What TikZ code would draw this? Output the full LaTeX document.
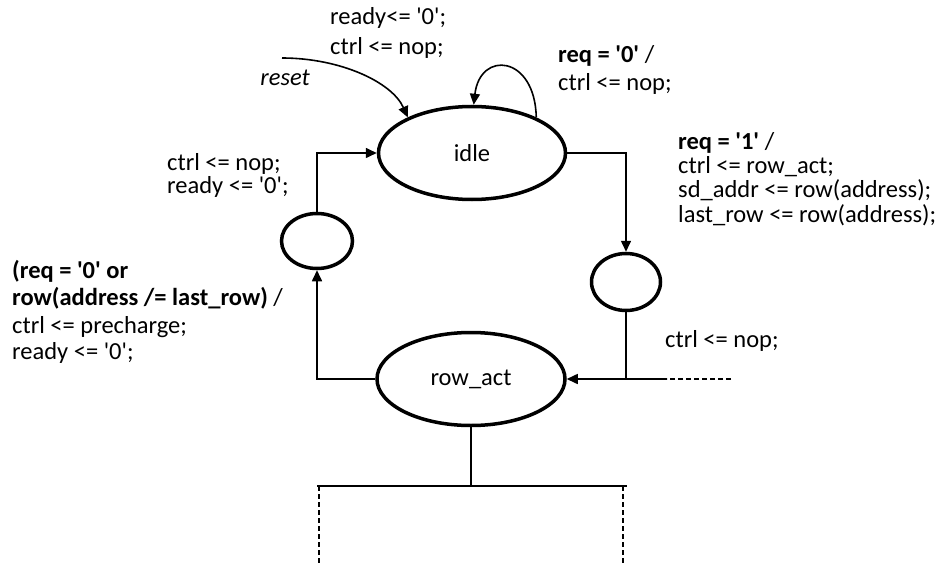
\documentclass[tikz,border=0pt]{standalone}
\usepackage{fontspec}
\setmainfont{Carlito}[Ligatures=TeXOff]
\usetikzlibrary{arrows.meta,shapes.geometric}
\begin{document}
\begin{tikzpicture}[x=1pt,y=-1pt,
  state/.style={ellipse,draw,line width=3.5pt,inner sep=0pt,font=\fontsize{24.5}{25}\selectfont},
  conn/.style={line width=1.6pt},
  arr/.style={conn,-{Triangle[length=11pt,width=10pt]}},
  dconn/.style={line width=1.4pt,dashed,dash pattern=on 5pt off 3pt},
  lbl/.style={anchor=mid west,inner sep=0pt,font=\fontsize{24.5}{25}\selectfont},
  ]
\useasboundingbox (0,0) rectangle (944,564);
% states
\node[state,minimum width=187pt,minimum height=93pt] (idle) at (472,153) {idle};
\node[state,minimum width=188pt,minimum height=93pt] (ract) at (471,379) {row\_act};
\node[state,minimum width=71pt,minimum height=55pt] (L) at (317,241) {};
\node[state,minimum width=69pt,minimum height=57pt] (R) at (626,282) {};
% coordinates
\coordinate (rst) at (282,58);
\coordinate (J) at (626,379);
\coordinate (D) at (667,379);
\coordinate (E) at (731,379);
\coordinate (B) at (471,486);
\coordinate (BL) at (317,486);
\coordinate (BR) at (627,486);
\coordinate (BLd) at (319,486);
\coordinate (BRd) at (623,486);
\coordinate (BLe) at (319,564);
\coordinate (BRe) at (623,564);
% connectors
\draw[arr] (rst) .. controls (340,58) and (392,82) .. (idle.151);
\draw[arr] (idle.29) .. controls (535,55) and (480,50) .. (idle.88);
\draw[arr] (idle.east) -| (R.north);
\draw[conn] (R.south) -- (J);
\draw[arr] (D) -- (ract.east);
\draw[dconn] (E) -- (D);
\draw[arr] (ract.west) -| (L.south);
\draw[arr] (L.north) |- (idle.west);
\draw[conn] (ract.south) -- (B);
\draw[conn] (BL) -- (BR);
\draw[dconn] (BLd) -- (BLe);
\draw[dconn] (BRd) -- (BRe);
% labels
\node[lbl] (t1) at (330,22) {ready<= '0';};
\node[lbl] (t2) at (330,52) {ctrl <= nop;};
\node[lbl,anchor=mid east,font=\fontsize{24.5}{25}\selectfont\itshape] (rs) at (310,83) {reset};
\node[lbl] (s1) at (558,60) {\textbf{req = '0'} /};
\node[lbl] (s2) at (558,88) {ctrl <= nop;};
\node[lbl] (r1) at (678,147) {\textbf{req = '1'} /};
\node[lbl] (r2) at (678,171) {ctrl <= row\_act;};
\node[lbl] (r3) at (678,195) {sd\_addr <= row(address);};
\node[lbl] (r4) at (678,220) {last\_row <= row(address);};
\node[lbl] (l1) at (167,168) {ctrl <= nop;};
\node[lbl] (l2) at (167,191) {ready <= '0';};
\node[lbl] (b1) at (12,276) {\textbf{(req = '0' or}};
\node[lbl] (b2) at (12,303) {\textbf{row(address /= last\_row)} /};
\node[lbl] (b3) at (12,331) {ctrl <= precharge;};
\node[lbl] (b4) at (12,357) {ready <= '0';};
\node[lbl] (n1) at (665,345) {ctrl <= nop;};
\end{tikzpicture}
\end{document}
